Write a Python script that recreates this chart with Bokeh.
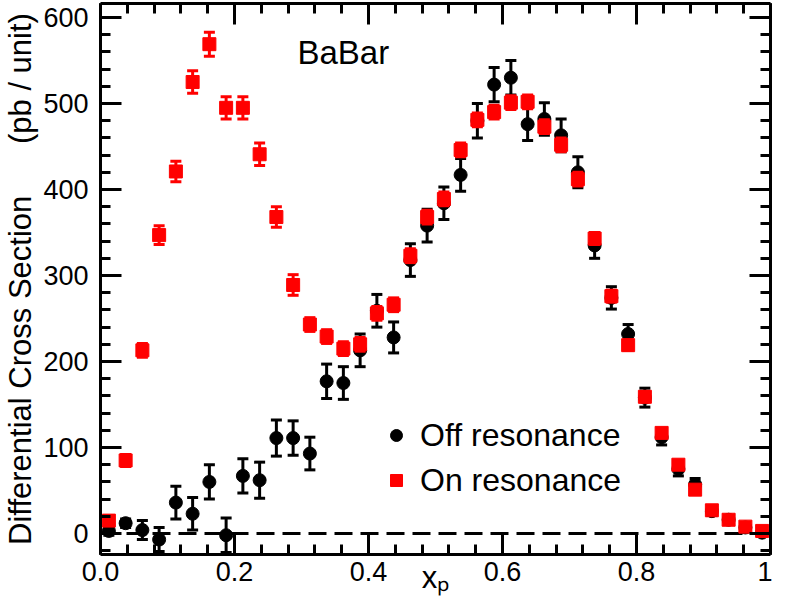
import numpy as np
from bokeh.plotting import figure
from bokeh.models import (Range1d, FixedTicker, LinearAxis, Span, Label,
                          CustomJSTickFormatter, ColumnDataSource)
from bokeh.embed import file_html
from bokeh.resources import INLINE

# ---------------- data ----------------
x_p = [0.0125, 0.0375, 0.0625, 0.0875, 0.1125, 0.1375, 0.1625, 0.1875, 0.2125, 0.2375,
       0.2625, 0.2875, 0.3125, 0.3375, 0.3625, 0.3875, 0.4125, 0.4375, 0.4625, 0.4875,
       0.5125, 0.5375, 0.5625, 0.5875, 0.6125, 0.6375, 0.6625, 0.6875, 0.7125, 0.7375,
       0.7625, 0.7875, 0.8125, 0.8375, 0.8625, 0.8875, 0.9125, 0.9375, 0.9625, 0.9875]

off_res = [3, 12, 4, -7, 36, 23, 60, -2, 67, 62,
           111, 111, 93, 177, 175, 213, 259, 228, 318, 358,
           384, 417, 480, 522, 530, 476, 482, 463, 420, 335,
           274, 232, 158, 112, 75, 57, 26, 16, 7, 1]
off_err = [5, 5, 11, 14, 19, 19, 20, 20, 20, 21,
           21, 20, 19, 20, 19, 19, 19, 18, 19, 19,
           19, 19, 20, 20, 20, 19, 19, 19, 18, 15,
           13, 11, 11, 9, 8, 7, 5, 4, 3, 2]

on_res = [15, 85, 213, 347, 421, 525, 569, 495, 495, 441,
          368, 289, 243, 229, 215, 220, 256, 266, 323, 368,
          389, 446, 481, 490, 501, 502, 473, 452, 412, 343,
          276, 219, 159, 117, 80, 51, 27, 16, 8, 3]
on_err = [5, 7, 8, 11, 12, 13, 14, 13, 13, 13,
          12, 12, 8, 8, 8, 8, 8, 8, 8, 8,
          8, 8, 8, 8, 8, 8, 8, 8, 8, 7,
          7, 6, 6, 5, 5, 4, 3, 3, 2, 2]

x_ticks = [0.0, 0.2, 0.4, 0.6, 0.8, 1.0]
y_ticks = [0, 100, 200, 300, 400, 500, 600]

series_names = ["Off resonance", "On resonance"]
title_text = "BaBar"
y_title = "Differential Cross Section" + "\u00a0" * 6 + "(pb / unit)"
x_title = "x\u209a"

# ---------------- figure ----------------
FONT = "Liberation Sans"
p = figure(width=772, height=600, output_backend="svg", toolbar_location=None,
           x_range=Range1d(0, 1), y_range=Range1d(-24.4, 616.3),
           min_border_left=100, min_border_right=2, min_border_top=3,
           min_border_bottom=46)
p.xgrid.visible = False
p.ygrid.visible = False
p.outline_line_color = None
p.background_fill_color = "white"
p.border_fill_color = "white"

x_minor = [float(v) for v in np.round(np.arange(0, 1.0001, 0.04), 4)]
y_minor = [float(v) for v in np.arange(-20, 621, 20)]
xticker = FixedTicker(ticks=x_ticks, minor_ticks=x_minor)
yticker = FixedTicker(ticks=y_ticks, minor_ticks=y_minor)


def style(ax, show_labels):
    ax.axis_line_width = 3
    ax.axis_line_color = "black"
    ax.major_tick_in = 21
    ax.major_tick_out = 0
    ax.minor_tick_in = 10
    ax.minor_tick_out = 0
    ax.major_tick_line_width = 3
    ax.minor_tick_line_width = 3
    ax.major_tick_line_color = "black"
    ax.minor_tick_line_color = "black"
    ax.major_label_text_font = FONT
    ax.major_label_text_font_size = "27px"
    ax.major_label_text_color = "black"
    ax.axis_label_text_font = FONT
    ax.axis_label_text_font_style = "normal"
    ax.axis_label_text_color = "black"
    if not show_labels:
        ax.formatter = CustomJSTickFormatter(code="return '';")
        ax.major_label_standoff = 0


xb = p.xaxis[0]
xb.ticker = xticker
xb.formatter = CustomJSTickFormatter(code="return tick > 0.999 ? '1' : tick.toFixed(1);")
style(xb, True)
xb.major_label_standoff = 7
xb.axis_label = x_title
xb.axis_label_text_font_size = "31px"
xb.axis_label_standoff = -24

yl = p.yaxis[0]
yl.ticker = yticker
style(yl, True)
yl.major_label_standoff = 12
yl.axis_label = y_title
yl.axis_label_text_font_size = "31px"
yl.axis_label_standoff = 2

xt = LinearAxis(ticker=xticker)
style(xt, False)
p.add_layout(xt, "above")
yr = LinearAxis(ticker=yticker)
style(yr, False)
p.add_layout(yr, "right")

zero = Span(location=0, dimension="width", line_color="black", line_width=3,
            line_dash="18 8", level="underlay")
p.add_layout(zero)

# ---------------- data glyphs ----------------
xs = np.array(x_p)
off_v = np.array(off_res, dtype=float)
off_e = np.array(off_err, dtype=float)
on_v = np.array(on_res, dtype=float)
on_e = np.array(on_err, dtype=float)

src_off = ColumnDataSource(dict(x=xs, y=off_v, lo=off_v - off_e, hi=off_v + off_e))
src_on = ColumnDataSource(dict(x=xs, y=on_v, lo=on_v - on_e, hi=on_v + on_e))

for src, col in ((src_off, "black"), (src_on, "#ff0000")):
    p.segment(x0="x", y0="lo", x1="x", y1="hi", source=src, line_color=col, line_width=3)
    p.scatter("x", "lo", source=src, marker="dash", size=11, line_color=col, line_width=3)
    p.scatter("x", "hi", source=src, marker="dash", size=11, line_color=col, line_width=3)
    if col == "black":
        p.scatter("x", "y", source=src, marker="circle", size=13, fill_color="black",
                  line_color="black", legend_label=series_names[0])

p.scatter("x", "y", source=src_on, marker="square", size=13, fill_color="#ff0000",
          line_color="#ff0000", legend_label=series_names[1])

leg = p.legend[0]
leg.location = (281, 54)
leg.glyph_width = 30
leg.glyph_height = 40
leg.label_height = 40
leg.spacing = 5
leg.padding = 0
leg.margin = 0
leg.label_standoff = 9
leg.border_line_color = None
leg.background_fill_alpha = 0
leg.label_text_font = FONT
leg.label_text_font_size = "32px"
leg.label_text_color = "black"

# ---------------- texts ----------------
p.add_layout(Label(x=0.294, y=559.3, text=title_text, text_font=FONT,
                   text_font_size="33px", text_align="left",
                   text_baseline="alphabetic", text_color="black"))

open("out.html", "w").write(file_html(p, INLINE))
